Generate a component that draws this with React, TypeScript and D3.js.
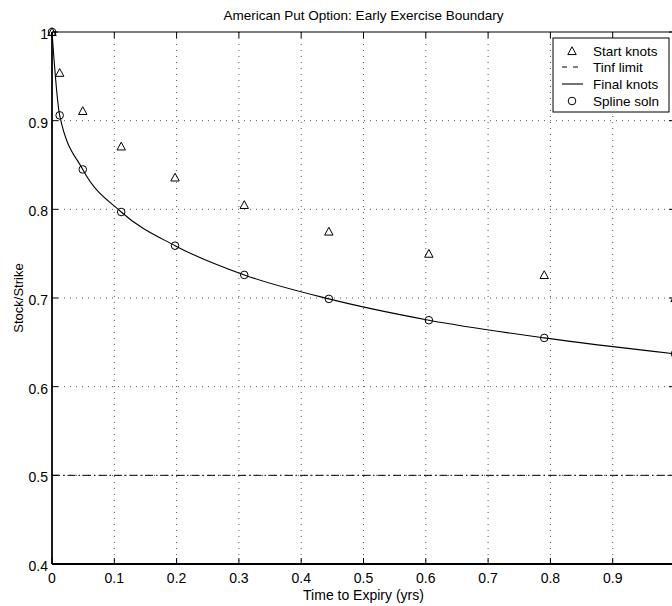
import React from "react";
import * as d3 from "d3";

const timeKnots = [0, 0.0123, 0.0494, 0.1111, 0.1975, 0.3086, 0.4444, 0.6049, 0.7901, 1.0];
const startKnots = [1.0, 0.954, 0.911, 0.871, 0.836, 0.805, 0.775, 0.75, 0.726, 0.7];
const splineSoln = [1.0, 0.906, 0.845, 0.797, 0.759, 0.726, 0.699, 0.675, 0.655, 0.637];
const tinfLimit = 0.5;
const xTicks = [0, 0.1, 0.2, 0.3, 0.4, 0.5, 0.6, 0.7, 0.8, 0.9, 1];
const xTickLabels = ["0", "0.1", "0.2", "0.3", "0.4", "0.5", "0.6", "0.7", "0.8", "0.9"];
const yTicks = [0.4, 0.5, 0.6, 0.7, 0.8, 0.9, 1];
const legendLabels = ["Start knots", "Tinf limit", "Final knots", "Spline soln"];
const titleText = "American Put Option: Early Exercise Boundary";
const xLabel = "Time to Expiry (yrs)";
const yLabel = "Stock/Strike";

const W = 672;
const H = 606;
const FONT = "'Liberation Sans', Arial, Helvetica, sans-serif";

export default function App() {
  const x = d3.scaleLinear().domain([0, 1]).range([52, 675]);
  const y = d3.scaleLinear().domain([0.4, 1]).range([564, 32]);
  const [x0, x1] = x.range();
  const [yb, yt] = y.range();

  const finalLine = d3
    .line<number>()
    .x((_, i) => x(timeKnots[i]))
    .y((d) => y(d))
    .curve(d3.curveMonotoneX)(splineSoln) as string;

  const tri = (cx: number, cy: number, s = 4.2) =>
    `M${cx},${cy - s} L${cx + s},${cy + s * 0.85} L${cx - s},${cy + s * 0.85} Z`;

  const tickLen = 6;
  const lg = { x: 553, y: 38, w: 116, h: 74 };
  const rowY = [51, 67, 84, 101];

  return (
    <svg
      width={W}
      height={H}
      style={{ position: "absolute", left: 0, top: 0, display: "block", background: "#fff" }}
      fontFamily={FONT}
    >
      <rect x={0} y={0} width={W} height={H} fill="#fff" />
      {/* grid */}
      <g stroke="#555" strokeWidth={1} strokeDasharray="1,5">
        {xTicks
          .filter((t) => t > 0 && t < 1)
          .map((t) => (
            <line key={"gx" + t} x1={x(t)} x2={x(t)} y1={yt} y2={yb} />
          ))}
        {yTicks
          .filter((t) => t > 0.4 && t < 1)
          .map((t) => (
            <line key={"gy" + t} x1={x0} x2={x1} y1={y(t)} y2={y(t)} />
          ))}
      </g>
      {/* axes box */}
      <g stroke="#000" fill="none">
        <line x1={x0} x2={x1} y1={yt} y2={yt} strokeWidth={1.2} />
        <line x1={x0} x2={x1} y1={yb} y2={yb} strokeWidth={1.8} />
        <line x1={x0} x2={x0} y1={yt} y2={yb} strokeWidth={1.8} />
        <line x1={x1} x2={x1} y1={yt} y2={yb} strokeWidth={1.2} />
        {xTicks.map((t) => (
          <g key={"tx" + t}>
            <line x1={x(t)} x2={x(t)} y1={yb} y2={yb - tickLen} />
            <line x1={x(t)} x2={x(t)} y1={yt} y2={yt + tickLen} />
          </g>
        ))}
        {yTicks.map((t) => (
          <g key={"ty" + t}>
            <line x1={x0} x2={x0 + tickLen} y1={y(t)} y2={y(t)} />
            <line x1={x1} x2={x1 - tickLen} y1={y(t)} y2={y(t)} />
          </g>
        ))}
      </g>
      {/* tick labels */}
      <g fontSize={14} fill="#000">
        {xTickLabels.map((l, i) => (
          <text key={"lx" + l} x={x(xTicks[i])} y={583} textAnchor="middle">
            {l}
          </text>
        ))}
        {yTicks.map((t) => (
          <text key={"ly" + t} x={48} y={y(t) + 7} textAnchor="end">
            {d3.format("~g")(t)}
          </text>
        ))}
      </g>
      {/* Tinf limit */}
      <line
        x1={x0}
        x2={x1}
        y1={y(tinfLimit)}
        y2={y(tinfLimit)}
        stroke="#000"
        strokeWidth={1}
        strokeDasharray="8,3,1.5,3"
      />
      {/* final knots line */}
      <path d={finalLine} fill="none" stroke="#000" strokeWidth={1.1} />
      {/* spline soln circles */}
      {splineSoln.map((v, i) => (
        <circle key={"c" + i} cx={x(timeKnots[i])} cy={y(v)} r={3.8} fill="none" stroke="#000" strokeWidth={1} />
      ))}
      {/* start knots triangles */}
      {startKnots.map((v, i) => (
        <path key={"t" + i} d={tri(x(timeKnots[i]), y(v))} fill="none" stroke="#000" strokeWidth={1} />
      ))}
      {/* title and labels */}
      <text x={(x0 + x1) / 2} y={20} textAnchor="middle" fontSize={13.5}>
        {titleText}
      </text>
      <text x={(x0 + x1) / 2} y={600} textAnchor="middle" fontSize={14}>
        {xLabel}
      </text>
      <text transform={`translate(23,${(yt + yb) / 2}) rotate(-90)`} textAnchor="middle" fontSize={13}>
        {yLabel}
      </text>
      {/* legend */}
      <g>
        <rect x={lg.x} y={lg.y} width={lg.w} height={lg.h} fill="#fff" stroke="#000" strokeWidth={1} />
        <path d={tri(572, rowY[0])} fill="none" stroke="#000" strokeWidth={1} />
        <line x1={562} x2={583} y1={rowY[1]} y2={rowY[1]} stroke="#000" strokeDasharray="5,6" />
        <line x1={562} x2={583} y1={rowY[2]} y2={rowY[2]} stroke="#000" strokeWidth={1.1} />
        <circle cx={572} cy={rowY[3]} r={3.8} fill="none" stroke="#000" />
        {legendLabels.map((l, i) => (
          <text key={l} x={593} y={rowY[i] + 5} fontSize={13.5}>
            {l}
          </text>
        ))}
      </g>
    </svg>
  );
}
